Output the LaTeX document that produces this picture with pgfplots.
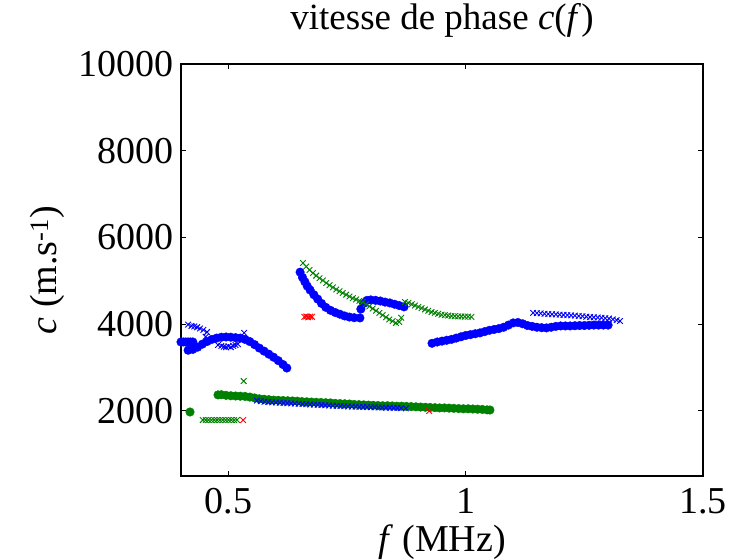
\documentclass[border=0pt]{standalone}
\usepackage{fontspec}
\setmainfont{Liberation Serif}
\usepackage{pgfplots}
\pgfplotsset{compat=1.18}
\definecolor{mblue}{rgb}{0,0,1}
\definecolor{mgreen}{rgb}{0,0.5,0}
\definecolor{mred}{rgb}{1,0,0}
\begin{document}
\begin{tikzpicture}
\begin{axis}[
  at={(0,0)}, anchor=south west,
  scale only axis, width=522bp, height=412bp,
  xmin=0.4, xmax=1.5, ymin=500, ymax=10000,
  xtick={0.5,1,1.5}, ytick={2000,4000,6000,8000,10000},
  scaled ticks=false,
  /pgf/number format/1000 sep={},
  /pgf/number format/assume math mode=true,
  tick label style={font=\fontsize{38bp}{42bp}\selectfont},
  yticklabel style={inner sep=0pt, xshift=-7bp},
  xticklabel style={inner sep=0pt, yshift=-12bp},
  major tick length=5bp,
  every tick/.style={black, line width=0.9bp},
  axis line style={line width=1.3bp},
  title={vitesse de phase \textit{c}(\textit{f})},
  title style={font=\fontsize{37bp}{42bp}\selectfont, at={(axis description cs:0.5,1)}, anchor=base, yshift=29bp},
  xlabel={\textit{f} (MHz)},
  xlabel style={font=\fontsize{38bp}{42bp}\selectfont, at={(axis description cs:0.5,0)}, anchor=base, yshift=-75bp},
  ylabel={\textit{c} (m.s\textsuperscript{-1})},
  ylabel style={font=\fontsize{38bp}{42bp}\selectfont, at={(axis description cs:0,0.5)}, anchor=base, yshift=124bp},
  dots/.style={only marks, mark=*, mark size=4.3bp, mark options={draw=#1, fill=#1}},
  crosses/.style={only marks, mark=x, mark size=4bp, mark options={draw=#1, line width=0.9bp}},
]
% blue branch, filled dots
\addplot[dots=mblue] coordinates {
 (0.400,3590) (0.405,3590) (0.410,3590) (0.415,3590) (0.420,3590) (0.425,3590)
};
\addplot[dots=mblue] coordinates {
 (0.415,3400) (0.425,3420) (0.435,3470) (0.445,3540) (0.455,3600) (0.465,3650)
 (0.475,3680) (0.485,3700) (0.495,3705) (0.505,3700) (0.515,3690) (0.525,3680)
 (0.535,3650) (0.545,3600) (0.555,3530) (0.565,3450) (0.575,3380) (0.585,3310)
 (0.595,3240) (0.605,3160) (0.615,3070) (0.623,2990)
};
\addplot[dots=mblue] coordinates {
 (0.651,5200) (0.656,5080) (0.661,4980) (0.666,4880) (0.672,4790) (0.680,4680)
 (0.688,4580) (0.696,4480) (0.705,4390) (0.715,4320) (0.725,4270) (0.735,4230)
 (0.745,4190) (0.755,4165) (0.765,4150) (0.777,4145)
};
\addplot[dots=mblue] coordinates {
 (0.779,4350) (0.785,4480) (0.792,4550) (0.800,4560) (0.810,4550) (0.820,4535)
 (0.830,4510) (0.840,4490) (0.850,4460) (0.860,4430) (0.870,4400)
};
\addplot[dots=mblue] coordinates {
 (0.929,3560) (0.940,3590) (0.950,3610) (0.960,3630) (0.970,3650) (0.980,3680)
 (0.990,3710) (1.000,3740) (1.010,3760) (1.020,3780) (1.030,3800) (1.040,3830)
 (1.050,3860) (1.060,3880) (1.070,3900) (1.080,3930) (1.090,3980) (1.100,4030)
 (1.110,4040) (1.120,4010) (1.130,3970) (1.140,3950) (1.150,3930) (1.160,3920)
 (1.170,3915) (1.180,3930) (1.190,3950) (1.200,3960) (1.210,3960) (1.220,3960)
 (1.230,3965) (1.240,3970) (1.250,3970) (1.260,3975) (1.270,3980) (1.280,3980)
 (1.290,3980) (1.300,3980)
};
% green branch, filled dots
\addplot[dots=mgreen] coordinates {(0.419,1976)};
\addplot[dots=mgreen] coordinates {
 (0.478,2370) (0.485,2375) (0.495,2360) (0.505,2350) (0.515,2345) (0.525,2340)
 (0.535,2335) (0.545,2320) (0.555,2300) (0.565,2280) (0.575,2270) (0.585,2260)
 (0.595,2250) (0.605,2245) (0.615,2240) (0.625,2235) (0.635,2230) (0.645,2225)
 (0.655,2215) (0.665,2210) (0.675,2205) (0.685,2200) (0.695,2195) (0.705,2190)
 (0.715,2185) (0.725,2175) (0.735,2170) (0.745,2165) (0.755,2160) (0.765,2150)
 (0.775,2145) (0.785,2140) (0.795,2135) (0.805,2130) (0.815,2125) (0.825,2120)
 (0.835,2120) (0.845,2115) (0.855,2110) (0.865,2110) (0.875,2105) (0.885,2100)
 (0.895,2095) (0.905,2090) (0.915,2085) (0.925,2080) (0.935,2075) (0.945,2070)
 (0.955,2070) (0.965,2065) (0.975,2060) (0.985,2055) (0.995,2050) (1.005,2050)
 (1.015,2045) (1.025,2040) (1.035,2035) (1.045,2025) (1.051,2022)
};
% blue branch, crosses
\addplot[crosses=mblue] coordinates {
 (0.415,3990) (0.422,3960) (0.428,3950) (0.434,3930) (0.440,3900) (0.447,3870)
 (0.455,3820)
 (0.452,3710) (0.478,3520) (0.485,3500) (0.490,3480) (0.495,3470) (0.500,3490)
 (0.505,3470) (0.510,3500) (0.515,3520) (0.520,3540) (0.533,3800)
};
\addplot[crosses=mblue] coordinates {
 (0.560,2240) (0.568,2225) (0.576,2215) (0.584,2205) (0.592,2200) (0.600,2195)
 (0.608,2190) (0.616,2185) (0.624,2180) (0.632,2175) (0.640,2170) (0.648,2165)
 (0.656,2160) (0.664,2155) (0.672,2150) (0.680,2145) (0.688,2140) (0.696,2135)
 (0.704,2130) (0.712,2125) (0.720,2120) (0.728,2120) (0.736,2115) (0.744,2110)
 (0.752,2105) (0.760,2100) (0.768,2100) (0.776,2095) (0.784,2090) (0.792,2090)
 (0.800,2085) (0.808,2085) (0.816,2080) (0.824,2080) (0.832,2075) (0.840,2075)
 (0.848,2070) (0.856,2070) (0.864,2065) (0.874,2060)
};
\addplot[crosses=mblue] coordinates {
 (1.142,4260) (1.150,4255) (1.158,4250) (1.166,4240) (1.174,4235) (1.182,4230)
 (1.190,4225) (1.198,4220) (1.206,4215) (1.214,4210) (1.222,4205) (1.230,4200)
 (1.238,4190) (1.246,4185) (1.254,4175) (1.262,4165) (1.270,4160) (1.278,4155)
 (1.286,4150) (1.294,4140) (1.302,4130) (1.310,4110) (1.318,4095) (1.325,4075)
};
% green branch, crosses
\addplot[crosses=mgreen] coordinates {
 (0.657,5410) (0.664,5330) (0.671,5250) (0.678,5180) (0.685,5120) (0.692,5060)
 (0.699,5010) (0.706,4950) (0.713,4900) (0.720,4850) (0.727,4800) (0.734,4760)
 (0.741,4720) (0.748,4680) (0.755,4640) (0.762,4600) (0.769,4570) (0.776,4540)
 (0.783,4510) (0.790,4460) (0.797,4410) (0.804,4360) (0.811,4310) (0.818,4260)
 (0.825,4210) (0.832,4160) (0.839,4110) (0.846,4070) (0.853,4030) (0.860,4050)
 (0.864,4150)
};
\addplot[crosses=mgreen] coordinates {
 (0.872,4510) (0.879,4490) (0.886,4460) (0.893,4430) (0.900,4400) (0.907,4370)
 (0.914,4340) (0.921,4310) (0.928,4280) (0.935,4260) (0.942,4240) (0.949,4220)
 (0.956,4210) (0.963,4200) (0.970,4190) (0.977,4185) (0.984,4180) (0.991,4180)
 (0.998,4175) (1.005,4175) (1.012,4170)
};
\addplot[crosses=mgreen] coordinates {
 (0.446,1790) (0.452,1790) (0.458,1790) (0.464,1790) (0.470,1790) (0.476,1790)
 (0.482,1790) (0.488,1790) (0.494,1790) (0.500,1790) (0.506,1790) (0.512,1790)
 (0.518,1790) (0.532,2690)
};
% red crosses
\addplot[crosses=mred] coordinates {
 (0.531,1790) (0.660,4170) (0.664,4180) (0.668,4160) (0.672,4175) (0.676,4170)
 (0.923,2000)
};
\end{axis}
\pgfresetboundingbox
\useasboundingbox (-181bp,-84bp) rectangle (553bp,476bp);
\end{tikzpicture}
\end{document}
